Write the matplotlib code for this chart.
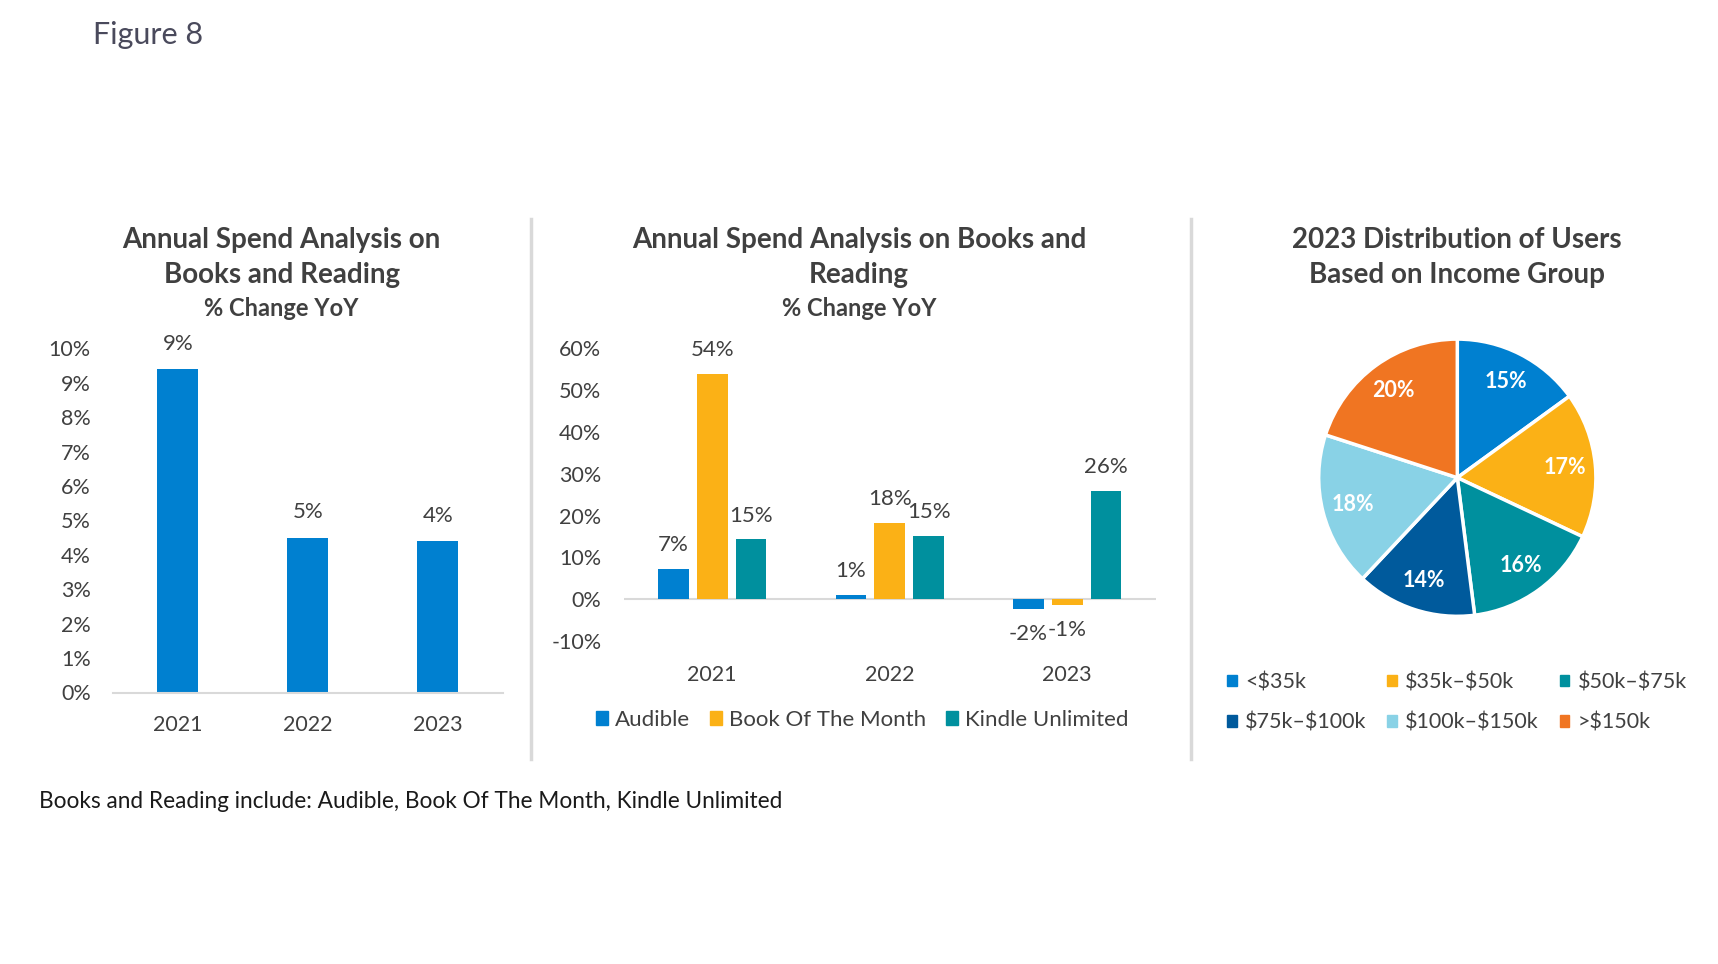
import matplotlib
matplotlib.use("Agg")
import matplotlib.pyplot as plt
from matplotlib.patches import Patch
from matplotlib.lines import Line2D
import numpy as np

plt.rcParams['font.family'] = ['Lato', 'DejaVu Sans']

# ---------------- data ----------------
years = ["2021", "2022", "2023"]
total_change = [9.4, 4.5, 4.4]
total_labels = ["9%", "5%", "4%"]

series_names = ["Audible", "Book Of The Month", "Kindle Unlimited"]
audible = [7.2, 1.0, -2.3]
botm = [53.9, 18.2, -1.3]
kindle = [14.3, 15.2, 26.0]
audible_labels = ["7%", "1%", "-2%"]
botm_labels = ["54%", "18%", "-1%"]
kindle_labels = ["15%", "15%", "26%"]

income_groups = ["<\\$35k", "\\$35k–\\$50k", "\\$50k–\\$75k", "\\$75k–\\$100k", "\\$100k–\\$150k", ">\\$150k"]
income_share = [15, 17, 16, 14, 18, 20]

left_yticks = list(range(0, 11))
mid_yticks = list(range(-10, 61, 10))

# ---------------- style ----------------
BLUE = "#0080D0"
YELLOW = "#FBB116"
TEAL = "#00909E"
DARKBLUE = "#005A9C"
LIGHTBLUE = "#89D2E6"
ORANGE = "#F07522"
TXT = "#404040"
AX = "#D9D9D9"

W, H = 1718, 964
fig = plt.figure(figsize=(W / 100, H / 100), dpi=100)

def fx(px):
    return px / W

def fy(py):
    return 1 - py / H

fig.text(fx(93), fy(35), "Figure 8", fontsize=22, color="#4A4A5C", va="center", ha="left")
fig.text(fx(39), fy(801), "Books and Reading include: Audible, Book Of The Month, Kindle Unlimited",
         fontsize=16.3, color="#1a1a1a", va="center", ha="left")

# separators
for xs in (531.4, 1191):
    fig.add_artist(Line2D([fx(xs), fx(xs)], [fy(219), fy(759)], color="#D9D9D9", lw=2.5,
                          transform=fig.transFigure))

TITLE_FS = 20
SUB_FS = 17
TICK_FS = 15.5
LBL_FS = 16

# ---------------- left chart ----------------
ax1 = fig.add_axes([fx(112.9), fy(692.5), fx(502.9) - fx(112.9), fy(348.4) - fy(692.5)])
x = np.arange(len(years))
bars = ax1.bar(x, total_change, width=0.315, color=BLUE)
ax1.set_xlim(-0.5, 2.5)
ax1.set_ylim(0, 10)
ax1.set_yticks(left_yticks)
ax1.set_yticklabels([f"{v}%" for v in left_yticks])
ax1.set_xticks(x)
ax1.set_xticklabels(years)
for s in ("top", "right", "left"):
    ax1.spines[s].set_visible(False)
ax1.spines["bottom"].set_color(AX)
ax1.spines["bottom"].set_linewidth(1.5)
ax1.tick_params(axis="y", length=0, pad=16, labelsize=TICK_FS, labelcolor=TXT)
ax1.tick_params(axis="x", length=0, pad=16, labelsize=TICK_FS, labelcolor=TXT)
for b, lab in zip(bars, total_labels):
    ax1.annotate(lab, (b.get_x() + b.get_width() / 2, b.get_height()), xytext=(0, 11),
                 textcoords="offset points", ha="center", va="bottom", fontsize=LBL_FS, color=TXT)

fig.text(fx(281.6), fy(240), "Annual Spend Analysis on", ha="center", va="center",
         fontsize=TITLE_FS, fontweight="bold", color=TXT)
fig.text(fx(281.6), fy(275), "Books and Reading", ha="center", va="center",
         fontsize=TITLE_FS, fontweight="bold", color=TXT)
fig.text(fx(281.6), fy(308), "% Change YoY", ha="center", va="center",
         fontsize=SUB_FS, fontweight="bold", color=TXT)

# ---------------- middle chart ----------------
ax2 = fig.add_axes([fx(623.5), fy(641), fx(1156) - fx(623.5), fy(348.4) - fy(641)])
w = 0.173
off = 0.219
cols = [BLUE, YELLOW, TEAL]
allvals = [audible, botm, kindle]
alllabs = [audible_labels, botm_labels, kindle_labels]
for i, (vals, labs, c, name) in enumerate(zip(allvals, alllabs, cols, series_names)):
    bb = ax2.bar(x + (i - 1) * off, vals, width=w, color=c, label=name)
    for b, v, lab in zip(bb, vals, labs):
        if v >= 0:
            ax2.annotate(lab, (b.get_x() + b.get_width() / 2, v), xytext=(0, 10),
                         textcoords="offset points", ha="center", va="bottom", fontsize=LBL_FS, color=TXT)
        else:
            ax2.annotate(lab, (b.get_x() + b.get_width() / 2, v), xytext=(0, -11),
                         textcoords="offset points", ha="center", va="top", fontsize=LBL_FS, color=TXT)
ax2.axhline(0, color=AX, lw=1.5, zorder=0)
ax2.set_xlim(-0.5, 2.5)
ax2.set_ylim(-10, 60)
ax2.set_yticks(mid_yticks)
ax2.set_yticklabels([f"{v}%" for v in mid_yticks])
ax2.set_xticks(x)
ax2.set_xticklabels(years)
for s in ("top", "right", "left", "bottom"):
    ax2.spines[s].set_visible(False)
ax2.tick_params(axis="y", length=0, pad=16, labelsize=TICK_FS, labelcolor=TXT)
ax2.tick_params(axis="x", length=0, pad=17, labelsize=TICK_FS, labelcolor=TXT)

handles2 = [Patch(color=c) for c in cols]
fig.legend(handles2, series_names, loc="center", bbox_to_anchor=(fx(862), fy(720)), ncol=3,
           frameon=False, fontsize=16, handlelength=0.55, handleheight=0.55, handletextpad=0.3,
           columnspacing=0.9, labelcolor=TXT)

fig.text(fx(859), fy(240), "Annual Spend Analysis on Books and", ha="center", va="center",
         fontsize=TITLE_FS, fontweight="bold", color=TXT)
fig.text(fx(859), fy(275), "Reading", ha="center", va="center",
         fontsize=TITLE_FS, fontweight="bold", color=TXT)
fig.text(fx(859), fy(308), "% Change YoY", ha="center", va="center",
         fontsize=SUB_FS, fontweight="bold", color=TXT)

# ---------------- pie ----------------
cx, cy, r = 1457.3, 477.7, 138.6
ax3 = fig.add_axes([fx(cx - r), fy(cy + r), fx(2 * r), fy(0) - fy(2 * r)])
pie_cols = [BLUE, YELLOW, TEAL, DARKBLUE, LIGHTBLUE, ORANGE]
wedges, texts, autotexts = ax3.pie(income_share, colors=pie_cols, startangle=90, counterclock=False,
                                   autopct=lambda p: f"{p:.0f}%", pctdistance=0.78,
                                   wedgeprops=dict(edgecolor="white", linewidth=2.5),
                                   textprops=dict(color="white", fontsize=15.5, fontweight="bold"))
ax3.set_xlim(-1.0, 1.0)
ax3.set_ylim(-1.0, 1.0)
ax3.set_aspect("auto")

order = [0, 3, 1, 4, 2, 5]
handles3 = [Patch(color=pie_cols[i]) for i in order]
labels3 = [income_groups[i] for i in order]
fig.legend(handles3, labels3, loc="center", bbox_to_anchor=(fx(1457), fy(702.5)), ncol=3,
           frameon=False, fontsize=15.5, handlelength=0.45, handleheight=0.45, handletextpad=0.4,
           columnspacing=0.95, labelcolor=TXT, labelspacing=0.95)

fig.text(fx(1457), fy(240), "2023 Distribution of Users", ha="center", va="center",
         fontsize=TITLE_FS, fontweight="bold", color=TXT)
fig.text(fx(1457), fy(275), "Based on Income Group", ha="center", va="center",
         fontsize=TITLE_FS, fontweight="bold", color=TXT)

fig.savefig("out.png", dpi=100, facecolor="white")
